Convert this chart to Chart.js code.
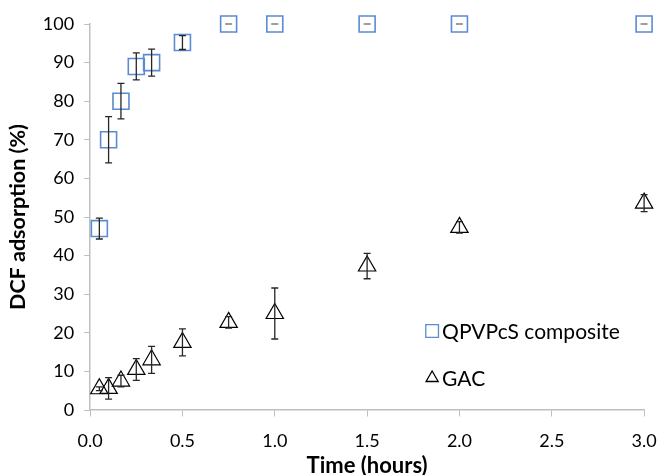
<!DOCTYPE html>
<html>
<head>
<meta charset="utf-8">
<script src="https://cdn.jsdelivr.net/npm/chart.js@4"></script>
<style>
  html, body { margin: 0; padding: 0; background: #fff; }
  #wrap { width: 657px; height: 475px; }
</style>
</head>
<body>
<div id="wrap"><canvas id="chartCanvas" width="657" height="475"></canvas></div>
<script>
// time in hours
const timeHours = [0.05, 0.1, 0.167, 0.25, 0.333, 0.5, 0.75, 1.0, 1.5, 2.0, 3.0];

// QPVPcS composite adsorption (%) and error
const qpvpcsValues = [47, 70, 80, 89, 90, 95.2, 100, 100, 100, 100, 100];
const qpvpcsErrors = [2.7, 6, 4.6, 3.5, 3.5, 1.8, 0, 0, 0, 0, 0];

// GAC adsorption (%) and error
const gacValues = [5.5, 5.6, 7.5, 10.5, 13, 17.5, 22.7, 25, 37.3, 47.3, 53.6];
const gacErrors = [0.5, 2.8, 1.5, 2.8, 3.5, 3.5, 1.5, 6.6, 3.3, 1.5, 2.2];

const seriesNames = ['QPVPcS composite', 'GAC'];
const xTicks = [0, 0.5, 1.0, 1.5, 2.0, 2.5, 3.0];

const FONT = 'Lato, "Open Sans", sans-serif';

function toPoints(xs, ys, errs) {
  return xs.map((x, i) => ({ x: x, y: ys[i], err: errs[i] }));
}

// draws vertical error bars using the chart scales
const errorBarPlugin = {
  id: 'errorBars',
  afterDatasetsDraw(chart) {
    const ctx = chart.ctx;
    const xs = chart.scales.x;
    const ys = chart.scales.y;
    ctx.save();
    ctx.lineWidth = 1.3;
    chart.data.datasets.forEach(ds => {
      ds.data.forEach(p => {
        const px = xs.getPixelForValue(p.x);
        const top = ys.getPixelForValue(p.y + p.err);
        const bot = ys.getPixelForValue(p.y - p.err);
        const cap = 3.5;
        // zero-size bars only show their caps, which look grey in the original
        ctx.strokeStyle = p.err === 0 ? '#7f7f7f' : '#262626';
        ctx.beginPath();
        ctx.moveTo(px, top);
        ctx.lineTo(px, bot);
        ctx.moveTo(px - cap, top);
        ctx.lineTo(px + cap, top);
        ctx.moveTo(px - cap, bot);
        ctx.lineTo(px + cap, bot);
        ctx.stroke();
      });
    });
    ctx.restore();
  }
};

// legend inside the plot area, lower right
const insideLegend = {
  id: 'insideLegend',
  afterDraw(chart) {
    const ctx = chart.ctx;
    const area = chart.chartArea;
    const lx = area.left + 342;
    const rows = [area.top + 307, area.top + 354];
    ctx.save();
    ctx.font = '21px ' + FONT;
    ctx.textBaseline = 'middle';
    chart.data.datasets.forEach((ds, i) => {
      ctx.strokeStyle = ds.borderColor;
      ctx.fillStyle = 'rgba(0,0,0,0)';
      ctx.lineWidth = 1.3;
      Chart.helpers.drawPoint(ctx, {
        pointStyle: ds.pointStyle,
        radius: i === 0 ? 9 : 7,
        borderWidth: 1.3
      }, lx, rows[i]);
      ctx.fillStyle = '#000';
      ctx.fillText(seriesNames[i], lx + 10, rows[i] + 1);
    });
    ctx.restore();
  }
};

const ctx = document.getElementById('chartCanvas').getContext('2d');
new Chart(ctx, {
  type: 'scatter',
  data: {
    datasets: [
      {
        label: seriesNames[0],
        data: toPoints(timeHours, qpvpcsValues, qpvpcsErrors),
        pointStyle: 'rect',
        pointRadius: 11.3,
        pointHoverRadius: 11.3,
        borderColor: '#5b8bd0',
        backgroundColor: 'rgba(0,0,0,0)',
        borderWidth: 1.6,
        clip: false
      },
      {
        label: seriesNames[1],
        data: toPoints(timeHours, gacValues, gacErrors),
        pointStyle: 'triangle',
        pointRadius: 10,
        pointHoverRadius: 10,
        borderColor: '#000000',
        backgroundColor: 'rgba(0,0,0,0)',
        borderWidth: 1.2,
        clip: false
      }
    ]
  },
  options: {
    responsive: false,
    animation: false,
    layout: { padding: { top: 24, right: 0, left: 5, bottom: -4 } },
    plugins: {
      legend: { display: false },
      tooltip: { enabled: false }
    },
    scales: {
      x: {
        type: 'linear',
        min: 0,
        max: 3,
        afterBuildTicks: axis => { axis.ticks = xTicks.map(v => ({ value: v })); },
        ticks: {
          color: '#000',
          font: { family: FONT, size: 18 },
          padding: 0,
          callback: v => Number(v).toFixed(1)
        },
        // long tick space but only the first 6px are drawn
        grid: {
          drawOnChartArea: false, drawTicks: true, tickLength: 20,
          tickBorderDash: [6, 40], color: '#bfbfbf'
        },
        border: { color: '#bfbfbf', width: 1.5 },
        title: {
          display: true,
          text: 'Time (hours)',
          color: '#000',
          font: { family: FONT, size: 22, weight: 'bold' },
          padding: { top: 1, bottom: 0 }
        }
      },
      y: {
        min: 0,
        max: 100,
        ticks: {
          stepSize: 10,
          color: '#000',
          font: { family: FONT, size: 18 },
          padding: 10
        },
        grid: { drawOnChartArea: false, drawTicks: true, tickLength: 6, color: '#bfbfbf' },
        border: { color: '#bfbfbf', width: 1.5 },
        title: {
          display: true,
          text: 'DCF adsorption (%)',
          color: '#000',
          font: { family: FONT, size: 21.5, weight: 'bold' },
          padding: { top: 0, bottom: 2 }
        }
      }
    }
  },
  plugins: [errorBarPlugin, insideLegend]
});
</script>
</body>
</html>
